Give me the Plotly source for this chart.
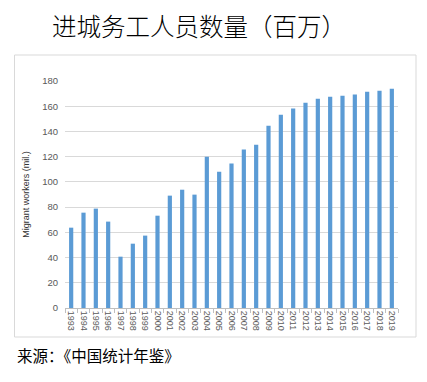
import plotly.graph_objects as go

years = [str(y) for y in range(1993, 2020)]
workers = [63.7, 75.6, 78.8, 68.5, 40.7, 51.0, 57.4, 73.2, 89.1, 93.8, 89.9, 120.0,
           108.1, 114.5, 125.6, 129.5, 144.6, 153.3, 158.1, 162.8, 166.0, 167.6,
           168.4, 169.2, 171.5, 172.3, 173.9]
y_ticks = list(range(0, 181, 20))

title_text = "进城务工人员数量（百万）"
source_text = "来源：《中国统计年鉴》"
y_title = "Migrant workers (mil.)"

fig = go.Figure()
fig.add_trace(go.Bar(x=years, y=workers, marker=dict(color="#5b9bd5", line=dict(width=0)),
                     width=0.34))

L, R, T, B = 65, 29, 81, 74
W, H = 427, 382
pw, ph = W - L - R, H - T - B

def px(x):
    return (x - L) / pw

def py(y):
    return (H - B - y) / ph

fig.update_layout(
    width=W, height=H,
    margin=dict(l=L, r=R, t=T, b=B),
    paper_bgcolor="white", plot_bgcolor="white",
    showlegend=False,
    font=dict(family="Arial, Liberation Sans", color="#595959"),
    xaxis=dict(type="category", tickangle=90, tickfont=dict(size=9, color="#595959"),
               showgrid=False, showline=True, linecolor="#bfbfbf", linewidth=1,
               ticks="outside", tickson="boundaries", ticklen=4, tickcolor="#bfbfbf",
               range=[-0.5, len(years) - 0.5]),
    yaxis=dict(range=[0, 180], tickvals=y_ticks, tickfont=dict(size=9.5, color="#595959"),
               showgrid=True, gridcolor="#d9d9d9", gridwidth=1, zeroline=False,
               showline=False, ticks="", ticklabelstandoff=6,
               title=dict(text=y_title, font=dict(size=9, color="#333333",
                          family="Liberation Sans Narrow, Arial Narrow, Arial"), standoff=10)),
    shapes=[dict(type="rect", xref="paper", yref="paper",
                 x0=px(14.5), x1=px(416), y0=py(337), y1=py(55),
                 line=dict(color="#d9d9d9", width=1), fillcolor="rgba(0,0,0,0)", layer="below")],
    annotations=[
        dict(text=title_text, xref="paper", yref="paper", x=px(199), y=py(25),
             xanchor="center", yanchor="middle", showarrow=False,
             font=dict(size=24.5, color="#000000", family="Noto Sans CJK SC", weight=300)),
        dict(text=source_text, xref="paper", yref="paper", x=px(15), y=py(355),
             xanchor="left", yanchor="middle", showarrow=False,
             font=dict(size=15.5, color="#000000", family="Noto Sans CJK SC")),
    ],
)

fig.write_html("out.html", config={"displayModeBar": False},
               post_script="document.body.style.margin='0';document.body.style.padding='0';")
